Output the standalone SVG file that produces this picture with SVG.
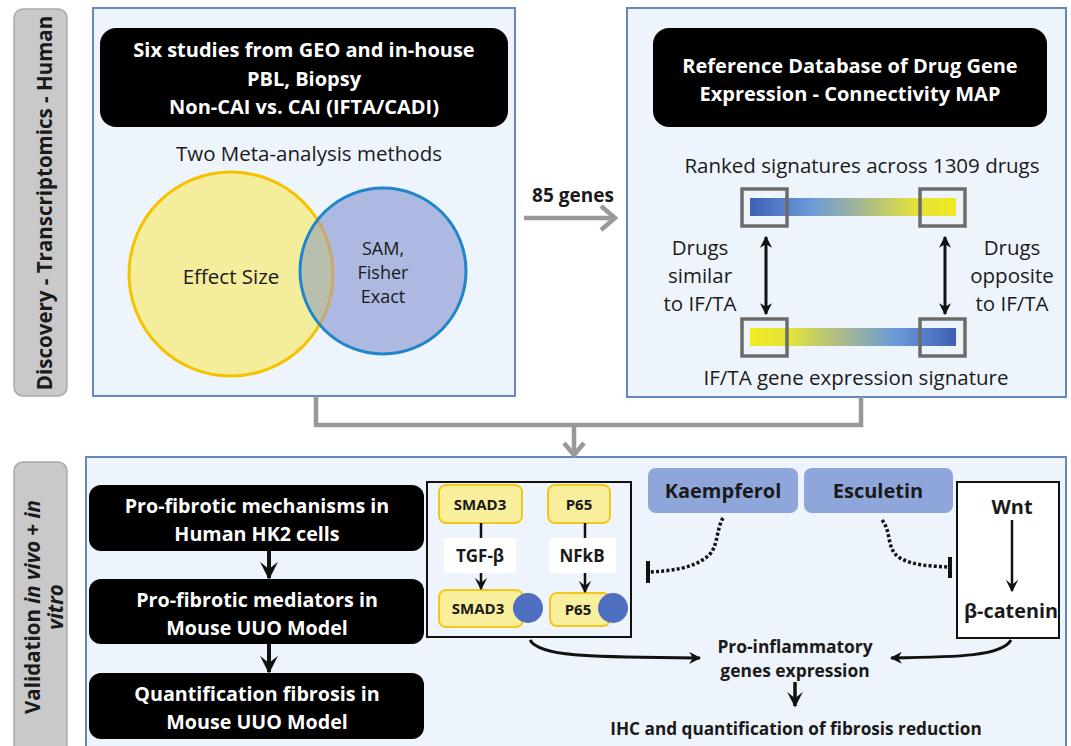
<svg xmlns="http://www.w3.org/2000/svg" width="1071" height="746" viewBox="0 0 1071 746">
<style>
text{font-family:"Open Sans","Noto Sans","Liberation Sans",Arial,sans-serif;text-anchor:middle;}
.b{font-weight:bold;}
.w{fill:#fff;}
.k{fill:#1a1a1a;}
.panel{fill:#eef4fb;stroke:#6488bb;stroke-width:2;}
.side{fill:#c9c9c9;stroke:#a9a9a9;stroke-width:1.5;}
.blk{fill:#000;}
.gsq{fill:none;stroke:#6b6b6b;stroke-width:3.5;}
.yel{fill:#f8ee9c;stroke:#f6c61d;stroke-width:2;}
.drug{fill:#8fa6da;}
.gray{fill:none;stroke:#999;stroke-width:4.5;}
.ln{fill:none;stroke:#111;stroke-width:3;}
.dot{fill:none;stroke:#111;stroke-width:3.5;stroke-dasharray:3 2.2;}
</style>
<defs>
<linearGradient id="gBY" x1="0" y1="0" x2="1" y2="0">
<stop offset="0" stop-color="#3e60b6"/>
<stop offset="0.3" stop-color="#6b9bd8"/>
<stop offset="0.55" stop-color="#a9b98f"/>
<stop offset="0.8" stop-color="#e2e23a"/>
<stop offset="1" stop-color="#f2ea22"/>
</linearGradient>
<linearGradient id="gYB" x1="1" y1="0" x2="0" y2="0">
<stop offset="0" stop-color="#3e60b6"/>
<stop offset="0.3" stop-color="#6b9bd8"/>
<stop offset="0.55" stop-color="#a9b98f"/>
<stop offset="0.8" stop-color="#e2e23a"/>
<stop offset="1" stop-color="#f2ea22"/>
</linearGradient>
<clipPath id="cBlue"><circle cx="383" cy="271" r="83"/></clipPath>
<marker id="ah" viewBox="0 0 10 10" refX="9" refY="5" markerWidth="4" markerHeight="4" orient="auto-start-reverse" markerUnits="strokeWidth">
<path d="M0,0 L10,5 L0,10 L3,5 z" fill="#111"/>
</marker>
<marker id="ahs" viewBox="0 0 10 10" refX="9" refY="5" markerWidth="5" markerHeight="5" orient="auto" markerUnits="strokeWidth">
<path d="M0,0 L10,5 L0,10 L4,5 z" fill="#111"/>
</marker>
<marker id="ahb" viewBox="0 0 10 10" refX="9" refY="5" markerWidth="4.5" markerHeight="4.5" orient="auto" markerUnits="strokeWidth">
<path d="M0,0 L10,5 L0,10 L4,5 z" fill="#111"/>
</marker>
</defs>

<rect width="1071" height="746" fill="#fff"/>

<g id="side-discovery">
<rect class="side" x="14" y="9" width="53" height="387" rx="9"/>
<text class="b k" font-size="20.5" transform="translate(52,203) rotate(-90)">Discovery - Transcriptomics - Human</text>
</g>
<g id="side-validation">
<rect class="side" x="14" y="462" width="53" height="300" rx="9"/>
<text class="b k" font-size="20.5" transform="translate(40,607) rotate(-90)">Validation <tspan font-style="italic">in vivo</tspan> + <tspan font-style="italic">in</tspan></text>
<text class="b k" font-size="20.5" font-style="italic" transform="translate(63,607) rotate(-90)">vitro</text>
</g>

<g id="panel-meta">
<rect class="panel" x="93" y="8" width="422" height="388"/>
<rect class="blk" x="100" y="28" width="408" height="99" rx="16"/>
<text class="b w" font-size="20" x="304" y="57">Six studies from GEO and in-house</text>
<text class="b w" font-size="20" x="304" y="86">PBL, Biopsy</text>
<text class="b w" font-size="20" x="304" y="114">Non-CAI vs. CAI (IFTA/CADI)</text>
<text class="k" font-size="20.5" x="309" y="161">Two Meta-analysis methods</text>
<circle cx="231" cy="274" r="102" fill="#f3ed9c" stroke="#f6c200" stroke-width="3"/>
<circle cx="383" cy="271" r="83" fill="#adb9e1"/>
<circle cx="231" cy="274" r="102" fill="#b8bfac" stroke="#c9a968" stroke-width="3" clip-path="url(#cBlue)"/>
<circle cx="383" cy="271" r="83" fill="none" stroke="#1f87c9" stroke-width="3"/>
<text class="k" font-size="20.5" x="231" y="284">Effect Size</text>
<text class="k" font-size="18" x="383" y="255">SAM,</text>
<text class="k" font-size="18" x="383" y="279">Fisher</text>
<text class="k" font-size="18" x="383" y="303">Exact</text>
</g>

<g id="panel-cmap">
<rect class="panel" x="627" y="8" width="439" height="389"/>
<rect class="blk" x="653" y="28" width="394" height="99" rx="16"/>
<text class="b w" font-size="20" x="850" y="73">Reference Database of Drug Gene</text>
<text class="b w" font-size="20" x="850" y="101">Expression - Connectivity MAP</text>
<text class="k" font-size="20.5" x="862" y="173">Ranked signatures across 1309 drugs</text>
<rect x="750" y="198" width="206" height="18" fill="url(#gBY)"/>
<rect x="750" y="328" width="206" height="18" fill="url(#gYB)"/>
<rect class="gsq" x="742" y="189" width="45" height="37"/>
<rect class="gsq" x="920" y="189" width="45" height="37"/>
<rect class="gsq" x="742" y="319" width="45" height="37"/>
<rect class="gsq" x="920" y="319" width="45" height="37"/>
<line class="ln" x1="766" y1="237" x2="766" y2="314" marker-start="url(#ah)" marker-end="url(#ah)"/>
<line class="ln" x1="945" y1="237" x2="945" y2="314" marker-start="url(#ah)" marker-end="url(#ah)"/>
<text class="k" font-size="20.5" x="700" y="255">Drugs</text>
<text class="k" font-size="20.5" x="700" y="283">similar</text>
<text class="k" font-size="20.5" x="700" y="311">to IF/TA</text>
<text class="k" font-size="20.5" x="1012" y="255">Drugs</text>
<text class="k" font-size="20.5" x="1012" y="283">opposite</text>
<text class="k" font-size="20.5" x="1012" y="311">to IF/TA</text>
<text class="k" font-size="20.5" x="856" y="385">IF/TA gene expression signature</text>
</g>

<g id="panel-validation">
<rect class="panel" x="86" y="457" width="980" height="300"/>
</g>

<g id="step-hk2">
<rect class="blk" x="89" y="485" width="335" height="66" rx="12"/>
<text class="b w" font-size="19.7" x="257" y="513">Pro-fibrotic mechanisms in</text>
<text class="b w" font-size="19.7" x="257" y="541">Human HK2 cells</text>
</g>
<g id="step-mediators">
<rect class="blk" x="89" y="579" width="335" height="65" rx="12"/>
<text class="b w" font-size="19.7" x="257" y="607">Pro-fibrotic mediators in</text>
<text class="b w" font-size="19.7" x="257" y="635">Mouse UUO Model</text>
</g>
<g id="step-quant">
<rect class="blk" x="89" y="673" width="335" height="66" rx="12"/>
<text class="b w" font-size="19.7" x="257" y="701">Quantification fibrosis in</text>
<text class="b w" font-size="19.7" x="257" y="729">Mouse UUO Model</text>
</g>

<g id="pathway-box">
<rect x="427" y="482" width="204" height="155" fill="#eef4fb" stroke="#111" stroke-width="2"/>
<rect class="yel" x="439" y="485" width="83" height="38" rx="7"/>
<text class="b k" font-size="15" x="480" y="510">SMAD3</text>
<rect class="yel" x="548" y="485" width="62" height="38" rx="7"/>
<text class="b k" font-size="15" x="579" y="510">P65</text>
<rect x="444" y="538" width="72" height="35" fill="#fff"/>
<text class="b k" font-size="17" x="480" y="562">TGF-β</text>
<rect x="549" y="538" width="67" height="35" fill="#fff"/>
<text class="b k" font-size="17" x="582" y="562">NFkB</text>
<rect class="yel" x="439" y="590" width="84" height="37" rx="7"/>
<text class="b k" font-size="15" x="478" y="614">SMAD3</text>
<circle cx="528" cy="608" r="15" fill="#4f6fc0"/>
<rect class="yel" x="550" y="593" width="60" height="33" rx="7"/>
<text class="b k" font-size="15" x="578" y="615">P65</text>
<circle cx="613" cy="608" r="15" fill="#4f6fc0"/>
</g>

<g id="kaempferol">
<rect class="drug" x="648" y="468" width="150" height="45" rx="8"/>
<text class="b k" font-size="20" x="723" y="498">Kaempferol</text>
</g>
<g id="esculetin">
<rect class="drug" x="804" y="468" width="149" height="45" rx="8"/>
<text class="b k" font-size="20" x="878" y="498">Esculetin</text>
</g>
<g id="wnt-box">
<rect x="957" y="482" width="102" height="156" fill="#fff" stroke="#111" stroke-width="2"/>
<text class="b k" font-size="20" x="1012" y="514">Wnt</text>
<text class="b k" font-size="19.8" x="1011" y="618">β-catenin</text>
</g>

<g id="outcome">
<text class="b k" font-size="17.4" x="795" y="653">Pro-inflammatory</text>
<text class="b k" font-size="17.4" x="795" y="677">genes expression</text>
<text class="b k" font-size="17.2" x="796" y="735">IHC and quantification of fibrosis reduction</text>
</g>

<g id="connectors">
<line class="gray" x1="524" y1="218" x2="614" y2="218"/>
<polyline class="gray" points="601,206 615,218 601,230"/>
<text class="b k" font-size="19" x="573" y="202">85 genes</text>
<polyline class="gray" points="316,396 316,425 861,425 861,397"/>
<line class="gray" x1="574" y1="425" x2="574" y2="454"/>
<polyline class="gray" points="564,443 574,455 584,443"/>
<line stroke="#111" stroke-width="4" x1="269" y1="551" x2="269" y2="578" marker-end="url(#ahb)"/>
<line stroke="#111" stroke-width="4" x1="269" y1="644" x2="269" y2="672" marker-end="url(#ahb)"/>
<line stroke="#111" stroke-width="2.5" x1="481" y1="523" x2="481" y2="538"/>
<line stroke="#111" stroke-width="2.5" x1="585" y1="523" x2="585" y2="538"/>
<line stroke="#111" stroke-width="2.5" x1="481" y1="573" x2="481" y2="589" marker-end="url(#ahs)"/>
<line stroke="#111" stroke-width="2.5" x1="585" y1="573" x2="585" y2="592" marker-end="url(#ahs)"/>
<line stroke="#111" stroke-width="2.5" x1="1012" y1="520" x2="1012" y2="591" marker-end="url(#ahs)"/>
<path class="dot" d="M723,518 C716,530 718,548 708,556 C694,568 672,571 649,572"/>
<line stroke="#111" stroke-width="4" x1="648" y1="561" x2="648" y2="583"/>
<path class="dot" d="M882,520 C892,532 886,550 900,558 C914,566 932,566 948,567"/>
<line stroke="#111" stroke-width="4" x1="950" y1="557" x2="950" y2="578"/>
<path class="ln" d="M530,640 C540,658 600,657 700,658" marker-end="url(#ah)"/>
<path class="ln" d="M1011,640 C1002,656 960,657 891,658" marker-end="url(#ah)"/>
<line stroke="#111" stroke-width="3.5" x1="795" y1="682" x2="795" y2="706" marker-end="url(#ahb)"/>
</g>
</svg>
